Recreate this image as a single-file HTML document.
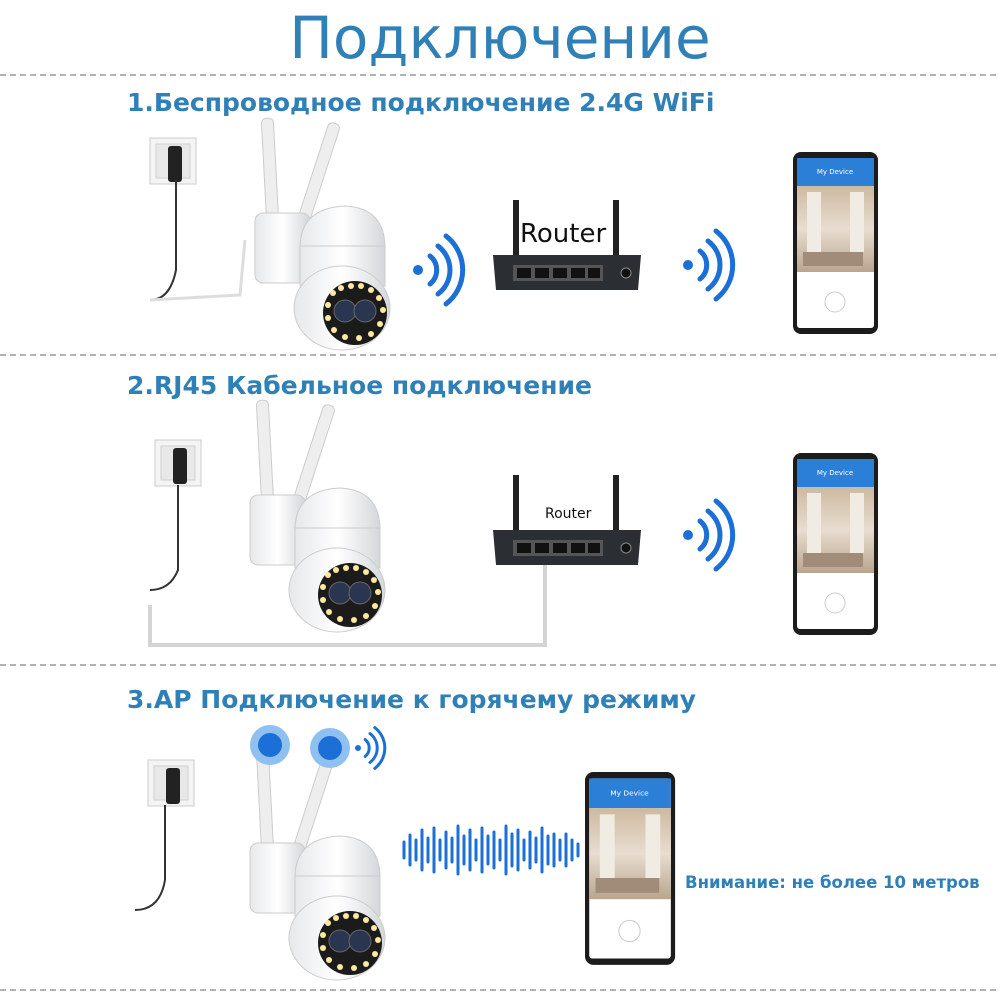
<!DOCTYPE html>
<html><head><meta charset="utf-8"><style>
html,body{margin:0;padding:0;background:#fff;}
svg{display:block}
text{font-family:"DejaVu Sans","Liberation Sans",sans-serif;}
</style></head><body>
<svg width="1000" height="1000" viewBox="0 0 1000 1000" xmlns="http://www.w3.org/2000/svg">
<defs>
<linearGradient id="cam" x1="0" x2="1"><stop offset="0" stop-color="#e6e8ea"/><stop offset=".5" stop-color="#fff"/><stop offset="1" stop-color="#d4d7da"/></linearGradient>
<linearGradient id="room" x1="0" y1="0" x2="0" y2="1"><stop offset="0" stop-color="#cdb9a0"/><stop offset=".5" stop-color="#e8ddd0"/><stop offset="1" stop-color="#b9a58e"/></linearGradient>
<g id="wifi" fill="none" stroke="#1b6fd6" stroke-width="5" stroke-linecap="round">
<circle cx="0" cy="0" r="5" fill="#1b6fd6" stroke="none"/>
<path d="M12,-14 A18,18 0 0 1 12,14"/><path d="M20,-24 A30,30 0 0 1 20,24"/><path d="M28,-34 A43,43 0 0 1 28,34"/>
</g>
<g id="socket">
<rect x="0" y="0" width="46" height="46" fill="#f4f4f4" stroke="#ccc"/>
<rect x="6" y="6" width="34" height="34" fill="#e8e8e8" stroke="#d0d0d0"/>
<rect x="18" y="8" width="14" height="36" rx="3" fill="#222"/>
</g>
<g id="camera">
<rect x="22" y="0" width="12" height="110" rx="5" fill="#eee" stroke="#ccc" transform="rotate(-3 28 110)"/>
<rect x="50" y="0" width="12" height="110" rx="5" fill="#eee" stroke="#ccc" transform="rotate(18 56 110)"/>
<rect x="10" y="95" width="55" height="70" rx="8" fill="url(#cam)" stroke="#ccc"/>
<path d="M55,130 Q55,90 100,88 Q140,90 140,130 Z" fill="url(#cam)" stroke="#ccc"/>
<rect x="55" y="128" width="85" height="40" fill="url(#cam)" stroke="#ccc"/>
<ellipse cx="97" cy="190" rx="48" ry="42" fill="url(#cam)" stroke="#ccc"/>
<circle cx="110" cy="195" r="32" fill="#1b1b1b"/>
<circle cx="100" cy="193" r="11" fill="#2a3550" stroke="#666"/>
<circle cx="120" cy="193" r="11" fill="#2a3550" stroke="#666"/>
<g fill="#ffe9a0"><circle cx="88" cy="175" r="3"/><circle cx="96" cy="170" r="3"/><circle cx="106" cy="168" r="3"/><circle cx="116" cy="168" r="3"/><circle cx="126" cy="172" r="3"/><circle cx="134" cy="180" r="3"/><circle cx="138" cy="192" r="3"/><circle cx="135" cy="206" r="3"/><circle cx="126" cy="216" r="3"/><circle cx="114" cy="220" r="3"/><circle cx="100" cy="219" r="3"/><circle cx="89" cy="212" r="3"/><circle cx="83" cy="200" r="3"/><circle cx="83" cy="187" r="3"/></g>
</g>
<g id="router">
<rect x="20" y="-55" width="6" height="60" fill="#222"/><rect x="120" y="-55" width="6" height="60" fill="#222"/>
<path d="M0,0 L148,0 L145,35 L3,35 Z" fill="#2b2f33"/>
<rect x="20" y="10" width="90" height="16" fill="#555"/>
<g fill="#111"><rect x="24" y="13" width="14" height="10"/><rect x="42" y="13" width="14" height="10"/><rect x="60" y="13" width="14" height="10"/><rect x="78" y="13" width="14" height="10"/><rect x="95" y="13" width="12" height="10"/></g>
<circle cx="133" cy="18" r="5" fill="#111" stroke="#888"/>
</g>
<g id="phone">
<rect x="0" y="0" width="85" height="182" rx="8" fill="#1c1c1c"/>
<rect x="4" y="6" width="77" height="170" rx="3" fill="#fff"/>
<rect x="4" y="6" width="77" height="28" fill="#2c7fd6"/>
<text x="42" y="22" font-size="7" fill="#fff" text-anchor="middle">My Device</text>
<rect x="4" y="34" width="77" height="86" fill="url(#room)"/>
<rect x="14" y="40" width="14" height="60" fill="#f0ebe3"/><rect x="57" y="40" width="14" height="60" fill="#f0ebe3"/>
<rect x="10" y="100" width="60" height="14" fill="#a08c78"/>
<circle cx="42" cy="150" r="10" fill="none" stroke="#ccc"/>
</g>
</defs>
<text x="500" y="58" font-size="58" fill="#2f80b7" text-anchor="middle" font-family="Liberation Sans,sans-serif">Подключение</text>
<g stroke="#999" stroke-width="1.5" stroke-dasharray="6,4"><line x1="0" y1="75" x2="1000" y2="75"/><line x1="0" y1="355" x2="1000" y2="355"/><line x1="0" y1="665" x2="1000" y2="665"/><line x1="0" y1="990" x2="1000" y2="990"/></g>
<g font-size="25" fill="#2f80b7" font-weight="bold" font-family="Liberation Sans,sans-serif">
<text x="127" y="111">1.Беспроводное подключение 2.4G WiFi</text>
<text x="127" y="394">2.RJ45 Кабельное подключение</text>
<text x="127" y="708">3.AP Подключение к горячему режиму</text>
</g>
<!-- section 1 -->
<use href="#socket" x="150" y="138"/>
<path d="M176,180 L176,270 Q170,300 150,300 M176,180" fill="none" stroke="#333" stroke-width="2"/>
<path d="M150,300 L240,295 L245,240" fill="none" stroke="#ddd" stroke-width="3"/>
<use href="#camera" x="245" y="118"/>
<use href="#wifi" x="418" y="270"/>
<use href="#router" x="493" y="255"/>
<text x="520" y="242" font-size="26" fill="#111" font-family="Liberation Sans,sans-serif">Router</text>
<use href="#wifi" x="688" y="265"/>
<use href="#phone" x="793" y="152"/>
<!-- section 2 -->
<use href="#socket" x="155" y="440"/>
<path d="M178,485 L178,570 Q170,590 150,590" fill="none" stroke="#333" stroke-width="2"/>
<path d="M150,605 L150,645 L545,645 L545,565" fill="none" stroke="#d4d4d4" stroke-width="4"/>
<use href="#camera" x="240" y="400"/>
<use href="#router" x="493" y="530"/>
<text x="545" y="518" font-size="14" fill="#111" font-family="Liberation Sans,sans-serif">Router</text>
<use href="#wifi" x="688" y="535"/>
<use href="#phone" x="793" y="453"/>
<!-- section 3 -->
<use href="#socket" x="148" y="760"/>
<path d="M165,805 L165,880 Q160,910 135,910" fill="none" stroke="#333" stroke-width="2"/>
<use href="#camera" x="240" y="748"/>
<circle cx="270" cy="745" r="20" fill="#8fc0f0"/><circle cx="270" cy="745" r="12" fill="#1b6fd6"/>
<circle cx="330" cy="748" r="20" fill="#8fc0f0"/><circle cx="330" cy="748" r="12" fill="#1b6fd6"/>
<g transform="translate(358,748) scale(.6)"><use href="#wifi"/></g>
<g stroke="#1b6fd6" stroke-width="3" stroke-linecap="round">
<path d="M404,842v16M410,835v30M416,840v20M422,830v40M428,838v24M434,828v44M440,840v20M446,832v36M452,838v24M458,826v48M464,836v28M470,830v40M476,840v20M482,828v44M488,836v28M494,832v36M500,840v20M506,826v48M512,834v32M518,830v40M524,840v20M530,832v36M536,838v24M542,828v44M548,836v28M554,834v32M560,840v20M566,834v32M572,840v20M578,844v12"/>
</g>
<use href="#phone" x="585" y="772" transform="translate(585,772) scale(1.06) translate(-585,-772)"/>
<text x="685" y="888" font-size="16.5" fill="#2f80b7" font-weight="bold" font-family="Liberation Sans,sans-serif">Внимание: не более 10 метров</text>
</svg>
</body></html>
